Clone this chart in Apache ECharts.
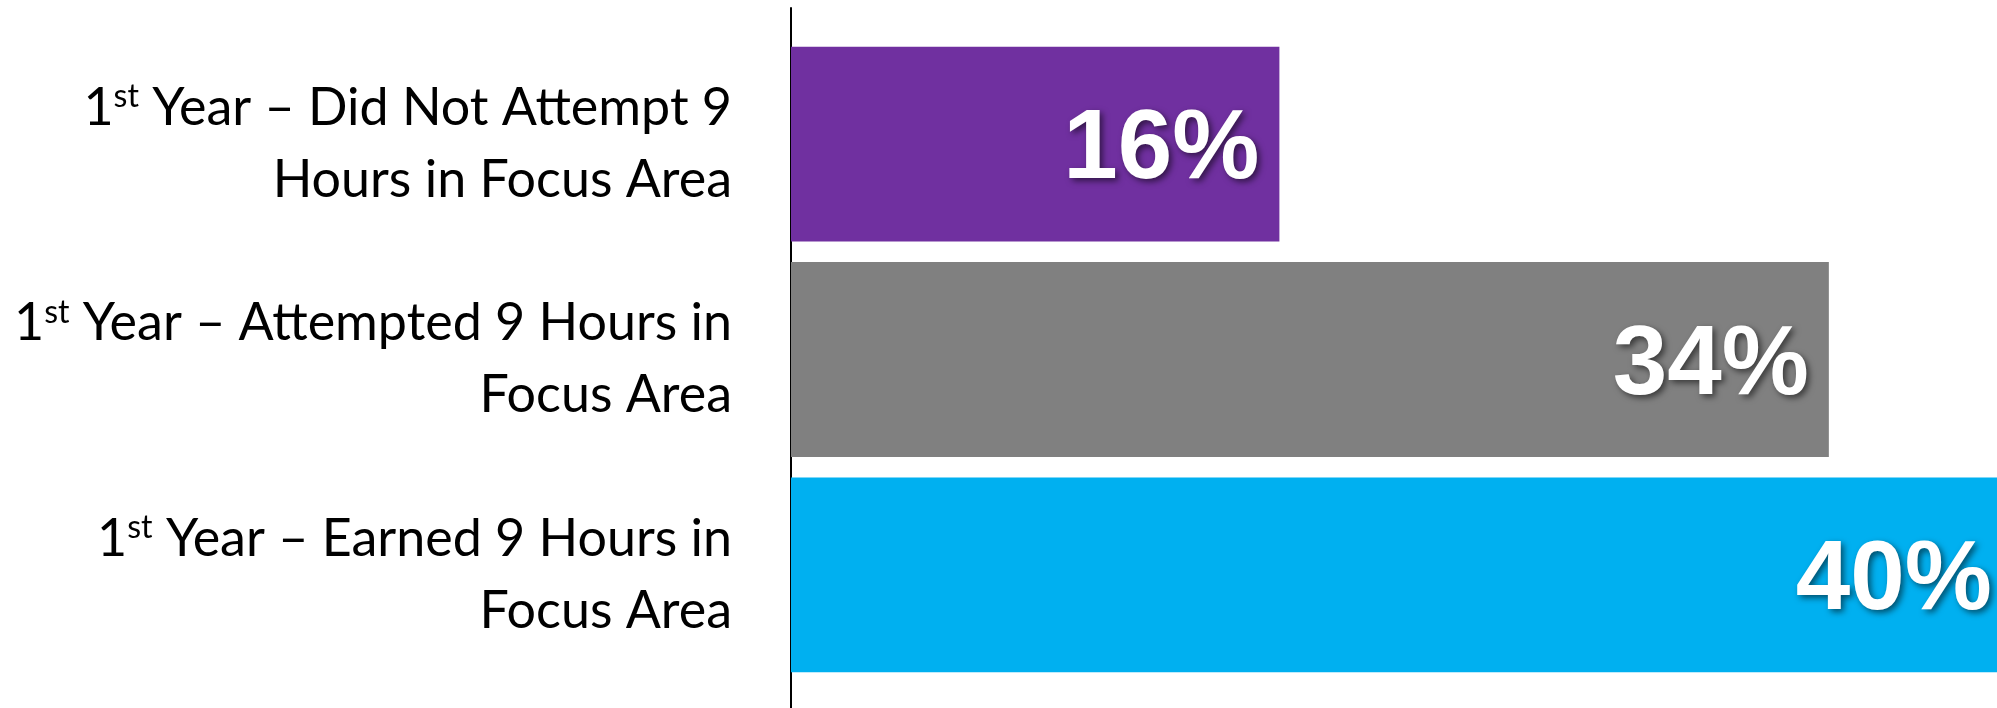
<!DOCTYPE html>
<html>
<head>
<meta charset="utf-8">
<script src="https://cdn.jsdelivr.net/npm/echarts@6/dist/echarts.min.js"></script>
<style>
html,body{margin:0;padding:0;background:#fff;}
#chart{width:1997px;height:708px;}
</style>
</head>
<body>
<div id="chart"></div>
<script>
// Category labels (the leading "1st" is drawn with a superscript "st")
const categoryLine1 = [
  'Year \u2013 Did Not Attempt 9',
  'Year \u2013 Attempted 9 Hours in',
  'Year \u2013 Earned 9 Hours in'
];
const categoryLine2 = [
  'Hours in Focus Area',
  'Focus Area',
  'Focus Area'
];
const values = [16, 34, 40];
const barColors = ['#7030A0', '#808080', '#00B0F0'];

const categories = categoryLine1.map((l1, i) => '1st ' + l1 + '\n' + categoryLine2[i]);

const chart = echarts.init(document.getElementById('chart'), null, {renderer: 'canvas'});
chart.setOption({
  animation: false,
  backgroundColor: '#ffffff',
  grid: [
    {left: 791, width: 1221, top: 36.5, bottom: 25.5, containLabel: false, outerBoundsMode: 'none'},
    {left: 791, right: 0, top: 8, bottom: 0, containLabel: false, outerBoundsMode: 'none'}
  ],
  xAxis: [
    {type: 'value', gridIndex: 0, min: 0, max: 40, show: false},
    {type: 'value', gridIndex: 1, min: 0, max: 1, show: false}
  ],
  yAxis: [
    {
      type: 'category', gridIndex: 0, inverse: true, data: categories,
      axisLine: {show: false}, axisTick: {show: false}, splitLine: {show: false},
      axisLabel: {
        margin: 59,
        align: 'right',
        color: '#000',
        fontFamily: 'Lato',
        fontSize: 52,
        lineHeight: 72,
        formatter: function (v) {
          const parts = v.split('\n');
          const first = parts[0].replace(/^1st /, '');
          return '{n|1}{sup|st}{n| ' + first + '}\n{n|' + parts[1] + '}';
        },
        rich: {
          n: {fontFamily: 'Lato', fontSize: 52, lineHeight: 72, color: '#000'},
          sup: {fontFamily: 'Lato', fontSize: 32, lineHeight: 72, color: '#000', verticalAlign: 'top', padding: [9, 0, 0, 0]}
        }
      }
    },
    {
      type: 'value', gridIndex: 1, min: 0, max: 1,
      axisLine: {show: true, lineStyle: {color: '#000', width: 2}},
      axisTick: {show: false}, axisLabel: {show: false}, splitLine: {show: false}
    }
  ],
  series: [{
    type: 'bar',
    xAxisIndex: 0, yAxisIndex: 0,
    barCategoryGap: '9.5%',
    clip: false,
    data: values.map((v, i) => ({value: v, itemStyle: {color: barColors[i]}})),
    label: {
      show: true,
      position: 'insideRight',
      distance: 20,
      offset: [0, 7],
      formatter: '{c}%',
      color: '#fff',
      fontFamily: 'Liberation Sans',
      fontWeight: 'bold',
      fontSize: 98,
      textShadowColor: 'rgba(0,0,0,0.55)',
      textShadowBlur: 6,
      textShadowOffsetX: 3,
      textShadowOffsetY: 3
    }
  }]
});
</script>
</body>
</html>
